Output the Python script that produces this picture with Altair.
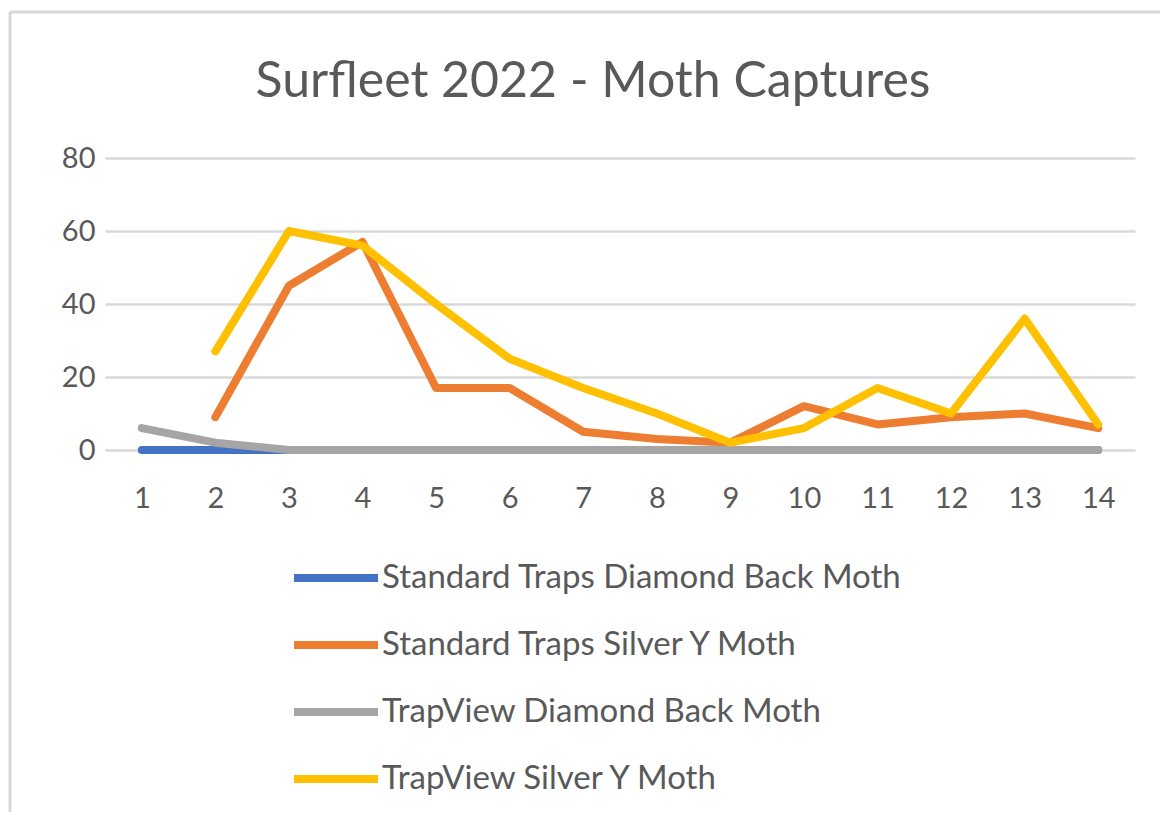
import altair as alt
import pandas as pd

title_text = "Surfleet 2022 - Moth Captures"
weeks = list(range(1, 15))
series_names = [
    "Standard Traps Diamond Back Moth",
    "Standard Traps Silver Y Moth",
    "TrapView Diamond Back Moth",
    "TrapView Silver Y Moth",
]
colors = ["#4472C4", "#ED7D31", "#A5A5A5", "#FFC000"]

std_dbm = [0, 0, 0, 0, 0, 0, 0, 0, 0, 0, 0, 0, 0, 0]
std_sy = [None, 9, 45, 57, 17, 17, 5, 3, 2, 12, 7, 9, 10, 6]
tv_dbm = [6, 2, 0, 0, 0, 0, 0, 0, 0, 0, 0, 0, 0, 0]
tv_sy = [None, 27, 60, 56, 40, 25, 17, 10, 2, 6, 17, 10, 36, 7]

rows = []
for name, vals in zip(series_names, [std_dbm, std_sy, tv_dbm, tv_sy]):
    for w, v in zip(weeks, vals):
        if v is not None:
            rows.append({"week": w, "value": v, "series": name})
df = pd.DataFrame(rows)

FONT = "Lato"
TXT = "#595959"

lines = alt.Chart(df).mark_line(strokeWidth=8, strokeCap="round", strokeJoin="round").encode(
    x=alt.X("week:Q", scale=alt.Scale(domain=[0.5, 14.5], nice=False, zero=False),
            axis=alt.Axis(values=weeks, grid=False, ticks=False, domain=False, title=None,
                          labelFontSize=29, labelFont=FONT, labelColor=TXT, labelPadding=34)),
    y=alt.Y("value:Q", scale=alt.Scale(domain=[0, 80], nice=False),
            axis=alt.Axis(values=[0, 20, 40, 60, 80], grid=True, gridColor="#D9D9D9", gridWidth=2.5,
                          ticks=False, domain=False, title=None,
                          labelFontSize=29, labelFont=FONT, labelColor=TXT, labelPadding=10)),
    color=alt.Color("series:N", scale=alt.Scale(domain=series_names, range=colors),
                    legend=alt.Legend(orient="none", legendX=185, legendY=374, direction="vertical",
                                      symbolType="stroke", symbolSize=7056, symbolStrokeWidth=8,
                                      labelFontSize=33, labelFont=FONT, labelColor=TXT,
                                      labelOffset=0, rowPadding=4, title=None, labelLimit=0)),
    order=alt.Order("week:Q"),
)

title = alt.Chart().mark_text(font=FONT, fontSize=50, color=TXT, align="center",
                              baseline="alphabetic").encode(
    x=alt.value(488), y=alt.value(-61), text=alt.value(title_text))

border_left = alt.Chart().mark_rule(color="#D9D9D9", strokeWidth=3).encode(
    x=alt.value(-95), y=alt.value(-146), y2=alt.value(700))
border_top = alt.Chart().mark_rule(color="#D9D9D9", strokeWidth=3).encode(
    x=alt.value(-95), x2=alt.value(1070), y=alt.value(-146))

chart = alt.layer(border_left, border_top, title, lines).properties(
    width=1030, height=292,
    autosize=alt.AutoSizeParams(type="none"),
    padding={"left": 97, "top": 150, "right": 25, "bottom": 362},
).configure_view(stroke=None)

chart.save("out.html", embed_options={"renderer": "svg", "actions": False})
